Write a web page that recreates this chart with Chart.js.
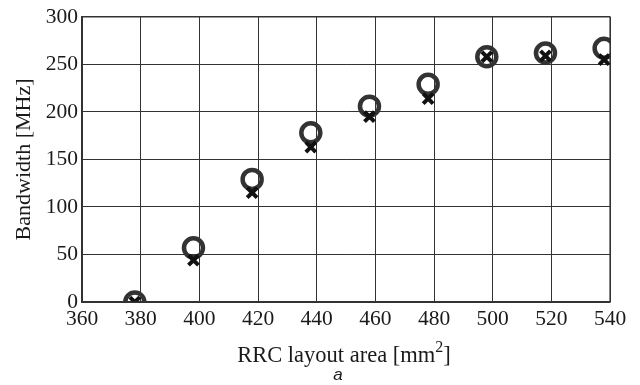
<!DOCTYPE html>
<html>
<head>
<meta charset="utf-8">
<script src="https://cdn.jsdelivr.net/npm/chart.js@4"></script>
<style>
  html, body { margin: 0; padding: 0; background: #fff; }
  #wrap { width: 640px; height: 385px; position: relative; }
</style>
</head>
<body>
<div id="wrap"><canvas id="grafica" width="640" height="385"></canvas></div>
<script>
const areas = [378, 398, 418, 438, 458, 478, 498, 518, 538];
const circulos = [0, 57, 129, 178, 206, 229, 258, 262, 267];
const cruces = [0, 44, 115, 163, 195, 214, 258, 259, 255];
const xTicks = [360, 380, 400, 420, 440, 460, 480, 500, 520, 540];
const yTicks = [0, 50, 100, 150, 200, 250, 300];

const serif = 'Liberation Serif';

// x axis title with a real superscript, plus the panel letter
const tituloX = {
  id: 'tituloX',
  afterDraw(chart) {
    const ctx = chart.ctx;
    const area = chart.chartArea;
    const cx = (area.left + area.right) / 2 - 2;
    const base = 362;
    const main = 'RRC layout area [mm';
    const sup = '2';
    const end = ']';
    ctx.save();
    ctx.fillStyle = '#1a1a1a';
    ctx.textBaseline = 'alphabetic';
    ctx.font = '22.5px "' + serif + '"';
    const wMain = ctx.measureText(main).width;
    const wEnd = ctx.measureText(end).width;
    ctx.font = '16px "' + serif + '"';
    const wSup = ctx.measureText(sup).width;
    let x = cx - (wMain + wSup + wEnd) / 2;
    ctx.textAlign = 'left';
    ctx.font = '22.5px "' + serif + '"';
    ctx.fillText(main, x, base);
    x += wMain;
    ctx.font = '16px "' + serif + '"';
    ctx.fillText(sup, x, base - 10);
    x += wSup;
    ctx.font = '22.5px "' + serif + '"';
    ctx.fillText(end, x, base);
    ctx.font = 'italic 17px "Liberation Sans"';
    ctx.textAlign = 'center';
    ctx.fillText('a', 338, 380);
    ctx.restore();
  }
};

new Chart(document.getElementById('grafica').getContext('2d'), {
  type: 'scatter',
  data: {
    datasets: [
      {
        label: 'x',
        data: areas.map((a, i) => ({ x: a, y: cruces[i] })),
        pointStyle: 'crossRot',
        pointRadius: 7,
        pointBorderWidth: 4,
        borderColor: '#111',
        backgroundColor: '#111'
      },
      {
        label: 'o',
        data: areas.map((a, i) => ({ x: a, y: circulos[i] })),
        pointStyle: 'circle',
        pointRadius: 9.5,
        pointBorderWidth: 4.5,
        borderColor: '#333',
        backgroundColor: 'rgba(0,0,0,0)'
      }
    ]
  },
  options: {
    responsive: false,
    animation: false,
    events: [],
    layout: { padding: { left: 0, right: 30, top: 15, bottom: 0 } },
    plugins: {
      legend: { display: false },
      tooltip: { enabled: false }
    },
    scales: {
      x: {
        type: 'linear',
        min: 360,
        max: 540,
        afterBuildTicks: (axis) => { axis.ticks = xTicks.map(v => ({ value: v })); },
        afterFit: (axis) => { axis.height = 83; },
        grid: { color: '#333', lineWidth: 1, drawTicks: false },
        border: { color: '#333', width: 1.2 },
        ticks: {
          padding: 4,
          color: '#1a1a1a',
          font: { family: serif, size: 21.5 }
        }
      },
      y: {
        min: 0,
        max: 300,
        afterBuildTicks: (axis) => { axis.ticks = yTicks.map(v => ({ value: v })); },
        afterFit: (axis) => { axis.width = 82; },
        grid: { color: '#333', lineWidth: 1, drawTicks: false },
        border: { color: '#333', width: 1.2 },
        ticks: {
          padding: 4,
          color: '#1a1a1a',
          font: { family: serif, size: 21.5 }
        },
        title: {
          display: true,
          text: 'Bandwidth [MHz]',
          color: '#1a1a1a',
          font: { family: serif, size: 22 },
          padding: { top: 11, bottom: 0 }
        }
      }
    }
  },
  plugins: [tituloX, {
    id: 'marco',
    afterDatasetsDraw(chart) {
      const { ctx, chartArea: a } = chart;
      ctx.save();
      ctx.strokeStyle = '#333';
      ctx.lineWidth = 1.2;
      ctx.strokeRect(a.left, a.top, a.right - a.left, a.bottom - a.top);
      ctx.restore();
    }
  }]
});
</script>
</body>
</html>
